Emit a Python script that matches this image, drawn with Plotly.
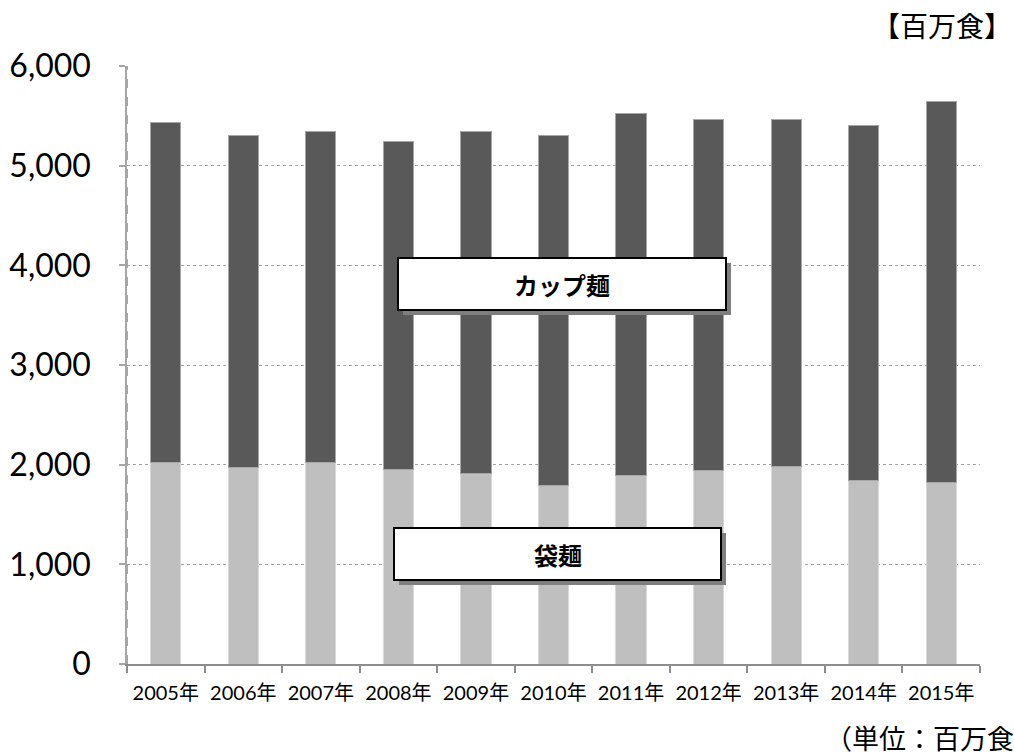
import plotly.graph_objects as go

years = ["2005年", "2006年", "2007年", "2008年", "2009年", "2010年",
         "2011年", "2012年", "2013年", "2014年", "2015年"]
bag_noodles = [2023, 1976, 2026, 1953, 1909, 1795, 1893, 1946, 1986, 1843, 1819]
cup_noodles = [3410, 3324, 3317, 3287, 3434, 3505, 3632, 3522, 3482, 3565, 3821]
y_ticks = [0, 1000, 2000, 3000, 4000, 5000, 6000]
y_tick_labels = ["0", "1,000", "2,000", "3,000", "4,000", "5,000", "6,000"]

W, H = 1014, 753
L, R, T, B = 127, 34, 66, 89
pw, ph = W - L - R, H - T - B

def px(x):
    return (x - L) / pw

def py(y):
    return (H - B - y) / ph

fig = go.Figure()
fig.add_trace(go.Bar(x=years, y=bag_noodles, name="袋麺",
                     marker=dict(color="#bfbfbf", line=dict(color="#d9d9d9", width=1))))
fig.add_trace(go.Bar(x=years, y=cup_noodles, name="カップ麺",
                     marker=dict(color="#595959", line=dict(color="#a6a6a6", width=1))))

shapes = []
annotations = []
for (x0, y0, x1, y1, label) in [(398, 258, 726, 310, "カップ麺"), (394, 528, 721, 580, "袋麺")]:
    shapes.append(dict(type="rect", xref="paper", yref="paper",
                       x0=px(x0 + 5), x1=px(x1 + 5), y0=py(y1 + 5), y1=py(y0 + 5),
                       fillcolor="#7f7f7f", line=dict(width=0), layer="above"))
    shapes.append(dict(type="rect", xref="paper", yref="paper",
                       x0=px(x0), x1=px(x1), y0=py(y1), y1=py(y0),
                       fillcolor="white", line=dict(color="black", width=2), layer="above"))
    annotations.append(dict(xref="paper", yref="paper", x=px((x0 + x1) / 2), y=py((y0 + y1) / 2),
                            xanchor="center", yanchor="middle",
                            text="<b>" + label + "</b>", showarrow=False,
                            font=dict(size=24, color="black", family="Noto Sans CJK JP")))

annotations.append(dict(xref="paper", yref="paper", x=px(1013), y=py(25), xanchor="right",
                        yanchor="middle", text="【百万食】", showarrow=False, borderpad=0,
                        font=dict(size=28, color="black", family="Noto Sans CJK JP")))
annotations.append(dict(xref="paper", yref="paper", x=px(823), y=py(737), xanchor="left",
                        yanchor="middle", text="（単位：百万食）", showarrow=False,
                        font=dict(size=27, color="black", family="Noto Sans CJK JP")))

fig.update_layout(
    barmode="stack",
    bargap=0.61,
    width=W, height=H,
    margin=dict(l=L, r=R, t=T, b=B, pad=0, autoexpand=False),
    plot_bgcolor="white", paper_bgcolor="white",
    showlegend=False,
    shapes=shapes,
    annotations=annotations,
    font=dict(family="Lato, Noto Sans CJK JP", color="black"),
)
fig.update_xaxes(showline=True, linecolor="#8c8c8c", linewidth=2, automargin=False,
                 ticks="outside", tickson="boundaries", ticklen=7, tickcolor="#8c8c8c", tickwidth=2,
                 ticklabelstandoff=10,
                 tickfont=dict(size=20, family="Lato, Noto Sans CJK JP", color="black"),
                 showgrid=False)
fig.update_yaxes(range=[0, 6000], tickvals=y_ticks, ticktext=y_tick_labels, automargin=False,
                 showgrid=True, gridcolor="#a0a0a0", griddash="dot", gridwidth=1.2,
                 showline=True, linecolor="#a6a6a6", linewidth=1.5,
                 ticks="outside", ticklen=6, tickcolor="#a6a6a6", tickwidth=1.5,
                 ticklabelstandoff=22,
                 tickfont=dict(size=32, family="Lato, Noto Sans", color="black"),
                 zeroline=False)
fig.add_shape(type="line", xref="paper", yref="paper", x0=0, x1=0, y0=0, y1=1,
              line=dict(color="#a6a6a6", width=2, dash="dash"), layer="above")

fig.write_html("out.html", config={"displayModeBar": False},
               post_script="document.body.style.margin='0';document.body.style.padding='0';")
